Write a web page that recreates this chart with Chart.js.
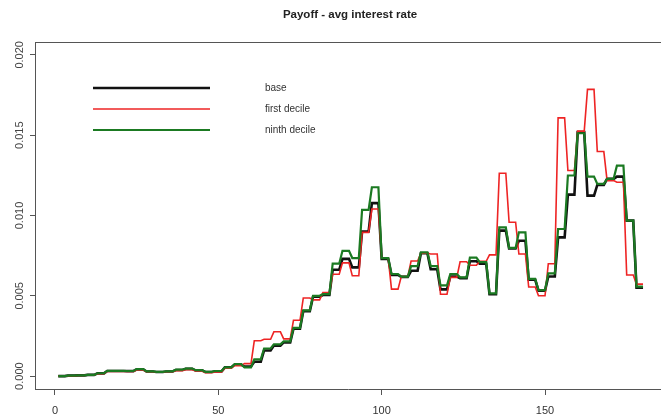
<!DOCTYPE html>
<html>
<head>
<meta charset="utf-8">
<script src="https://cdn.jsdelivr.net/npm/chart.js@4.4.1/dist/chart.umd.min.js"></script>
<style>
  html, body { margin: 0; padding: 0; background: #fff; }
</style>
</head>
<body>
<canvas id="myChart" width="661" height="419"></canvas>
<script>
// each value is held for 3 consecutive periods (x = 1..180)
const periodsPerValue = 3;
const seriesNames = ['base', 'first decile', 'ninth decile'];

const base = [0.00000, 0.00003, 0.00005, 0.00008, 0.00017, 0.00032, 0.00032, 0.00031, 0.00042, 0.00029,
  0.00026, 0.00029, 0.00038, 0.00045, 0.00036, 0.00026, 0.00030, 0.00055, 0.00072, 0.00060,
  0.00090, 0.00160, 0.00190, 0.00210, 0.00295, 0.00405, 0.00495, 0.00505, 0.00662, 0.00730,
  0.00677, 0.00900, 0.01077, 0.00730, 0.00630, 0.00618, 0.00656, 0.00765, 0.00665, 0.00540,
  0.00620, 0.00610, 0.00715, 0.00700, 0.00510, 0.00906, 0.00795, 0.00843, 0.00600, 0.00532,
  0.00620, 0.00864, 0.01130, 0.01520, 0.01124, 0.01190, 0.01228, 0.01242, 0.00968, 0.00550];

const firstDecile = [0.00000, 0.00002, 0.00004, 0.00007, 0.00015, 0.00030, 0.00030, 0.00029, 0.00038, 0.00027,
  0.00025, 0.00027, 0.00034, 0.00040, 0.00032, 0.00022, 0.00026, 0.00050, 0.00065, 0.00078,
  0.00220, 0.00230, 0.00276, 0.00232, 0.00348, 0.00486, 0.00475, 0.00520, 0.00634, 0.00705,
  0.00625, 0.00895, 0.01040, 0.00735, 0.00542, 0.00620, 0.00717, 0.00765, 0.00760, 0.00510,
  0.00615, 0.00712, 0.00690, 0.00715, 0.00755, 0.01263, 0.00958, 0.00760, 0.00555, 0.00500,
  0.00700, 0.01608, 0.01280, 0.01525, 0.01785, 0.01398, 0.01217, 0.01207, 0.00630, 0.00573];

const ninthDecile = [0.00000, 0.00003, 0.00005, 0.00008, 0.00018, 0.00033, 0.00033, 0.00032, 0.00044, 0.00030,
  0.00027, 0.00030, 0.00040, 0.00047, 0.00037, 0.00027, 0.00032, 0.00055, 0.00075, 0.00055,
  0.00105, 0.00172, 0.00198, 0.00216, 0.00300, 0.00410, 0.00500, 0.00510, 0.00700, 0.00780,
  0.00735, 0.01035, 0.01176, 0.00735, 0.00636, 0.00620, 0.00685, 0.00770, 0.00685, 0.00565,
  0.00636, 0.00615, 0.00738, 0.00710, 0.00515, 0.00926, 0.00798, 0.00895, 0.00605, 0.00536,
  0.00640, 0.00916, 0.01249, 0.01512, 0.01242, 0.01197, 0.01228, 0.01310, 0.00968, 0.00557];

const xTicks = [0, 50, 100, 150];
const yTicks = [0, 0.005, 0.010, 0.015, 0.020];
const yTickLabels = ['0.000', '0.005', '0.010', '0.015', '0.020'];

function toPoints(values) {
  var pts = [];
  for (let i = 0; i < values.length; i++) {
    for (let j = 0; j < periodsPerValue; j++) {
      pts.push({x: i * periodsPerValue + j + 1, y: values[i]});
    }
  }
  return pts;
}

const colors = ['#111111', '#ee2424', '#1b7a22'];
const widths = [2.6, 1.6, 2.2];

// R style: title over plot region, top box line, legend without box
const extras = {
  id: 'extras',
  afterDraw(chart) {
    const ctx = chart.ctx;
    const a = chart.chartArea;
    ctx.save();
    ctx.strokeStyle = '#555';
    ctx.lineWidth = 1;
    ctx.beginPath();
    ctx.moveTo(a.left, a.top + 0.5);
    ctx.lineTo(a.right, a.top + 0.5);
    ctx.stroke();

    ctx.fillStyle = '#222';
    ctx.font = 'bold 11.5px "Liberation Sans", Arial, sans-serif';
    ctx.textAlign = 'center';
    ctx.textBaseline = 'middle';
    ctx.fillText('Payoff - avg interest rate', 350, 14.5);

    ctx.font = '10px "Liberation Sans", Arial, sans-serif';
    ctx.textAlign = 'left';
    for (let i = 0; i < seriesNames.length; i++) {
      const y = 88 + i * 21;
      ctx.strokeStyle = colors[i];
      ctx.lineWidth = widths[i];
      ctx.beginPath();
      ctx.moveTo(93, y);
      ctx.lineTo(210, y);
      ctx.stroke();
      ctx.fillStyle = '#333';
      ctx.fillText(seriesNames[i], 265, y);
    }
    ctx.restore();
  }
};

const datasets = [base, firstDecile, ninthDecile].map(function (vals, i) {
  return {
    label: seriesNames[i],
    data: toPoints(vals),
    borderColor: colors[i],
    borderWidth: widths[i],
    pointRadius: 0,
    tension: 0,
    fill: false,
    order: 3 - i
  };
});

var ctx = document.getElementById('myChart').getContext('2d');
var myChart = new Chart(ctx, {
  type: 'line',
  data: { datasets: datasets },
  options: {
    responsive: false,
    animation: false,
    layout: { padding: { top: 42, left: 0, right: 0, bottom: 0 } },
    plugins: { legend: { display: false }, tooltip: { enabled: false } },
    scales: {
      x: {
        type: 'linear',
        min: -6.12,
        max: 185.5,
        afterBuildTicks: function (s) { s.ticks = xTicks.map(v => ({value: v})); },
        afterFit: function (s) { s.height = 30; },
        grid: { display: true, drawOnChartArea: false, drawTicks: true, tickLength: 6, color: '#555' },
        border: { display: true, color: '#555', width: 1 },
        ticks: {
          padding: 9,
          color: '#333',
          font: { family: '"Liberation Sans", Arial, sans-serif', size: 11 },
          maxRotation: 0,
          autoSkip: false
        }
      },
      y: {
        min: -0.0008,
        max: 0.0208,
        afterBuildTicks: function (s) { s.ticks = yTicks.map(v => ({value: v})); },
        afterFit: function (s) { s.width = 35; },
        grid: { display: true, drawOnChartArea: false, drawTicks: true, tickLength: 5, color: '#555' },
        border: { display: true, color: '#555', width: 1 },
        ticks: {
          padding: -3.5,
          color: '#444',
          crossAlign: 'center',
          minRotation: 90,
          maxRotation: 90,
          autoSkip: false,
          font: { family: '"Liberation Sans", Arial, sans-serif', size: 11 },
          callback: function (v) { return yTickLabels[yTicks.indexOf(v)]; }
        }
      }
    }
  },
  plugins: [extras]
});
</script>
</body>
</html>
